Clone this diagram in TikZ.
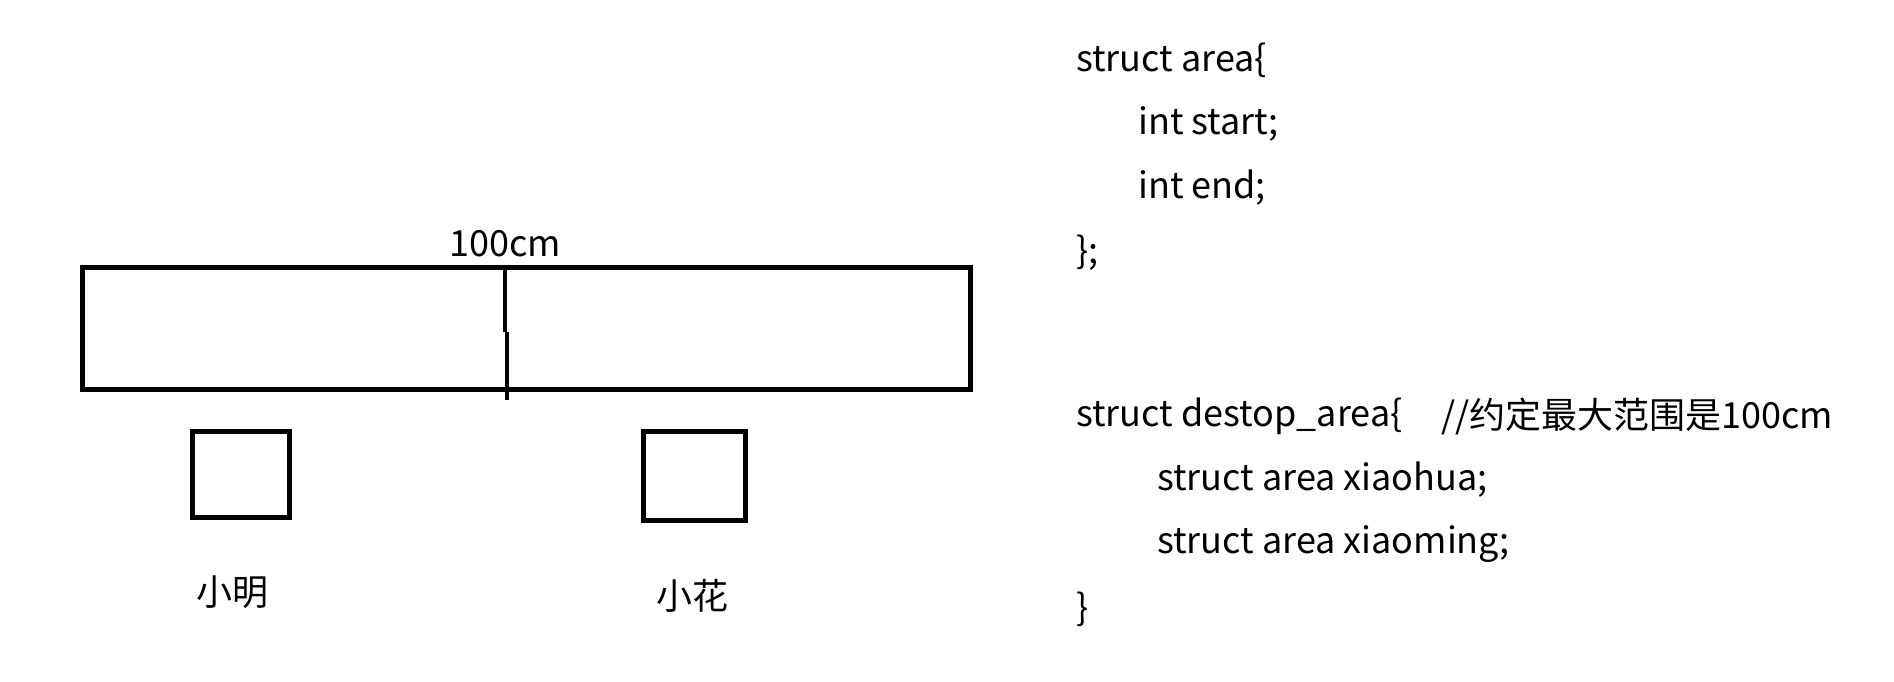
\documentclass[tikz,border=0pt]{standalone}
\usepackage{fontspec}
\setmainfont{Noto Sans CJK SC}
\usetikzlibrary{positioning}

\begin{document}
\begin{tikzpicture}[
  x=1pt, y=-1pt,
  every node/.style={font=\fontsize{36}{44}\selectfont, inner sep=0pt},
  box/.style={draw, line width=5pt},
  code/.style={anchor=west},
]
\useasboundingbox (0,0) rectangle (1894,681);

% Desk bar and the two areas
\node[box, minimum width=888pt, minimum height=122pt] (desk) at (526.5,328.5) {};
\node[box, minimum width=97pt, minimum height=86pt] (xm) at (240.5,474) {};
\node[box, minimum width=102pt, minimum height=89pt] (xh) at (694.5,476) {};

\coordinate (cut) at (505,267);
\coordinate (jog) at (505,332);
\coordinate (jog2) at (507,332);
\coordinate (cutend) at (507,400);
\draw[line width=4pt] (cut) -- (jog);
\draw[line width=4pt] (jog2) -- (cutend);
\node[above=10pt of cut] (len) {100cm};

\node[below=56pt of xm, xshift=-8pt] (xmlabel) {小明};
\node[below=56pt of xh, xshift=-2pt] (xhlabel) {小花};

% Code
\node[code] (a1) at (1076,60) {struct area\{};
\node[code] (a2) at (1138,124) {int start;};
\node[code] (a3) at (1138,188) {int end;};
\node[code] (a4) at (1076,253) {\};};

\node[code] (d1) at (1076,416) {struct destop\_area\{};
\node[code] (d2) at (1441,416) {//约定最大范围是100cm};
\node[code] (d3) at (1157,480) {struct area xiaohua;};
\node[code] (d4) at (1157,544) {struct area xiaoming;};
\node[code] (d5) at (1076,609) {\}};

\end{tikzpicture}
\end{document}
